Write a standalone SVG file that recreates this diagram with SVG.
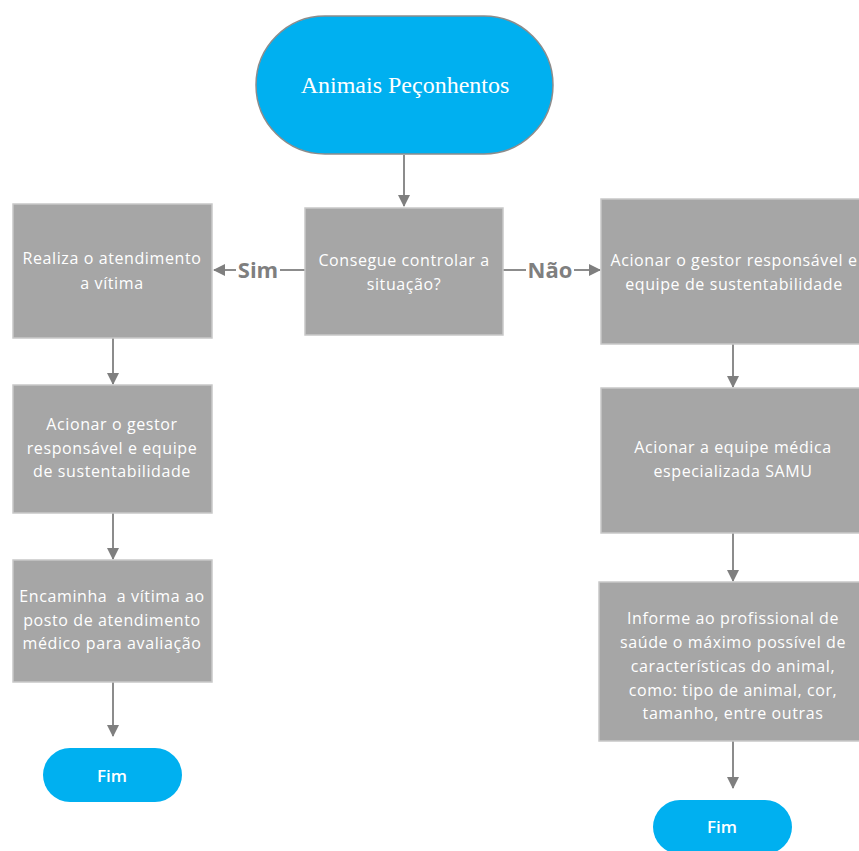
<svg xmlns="http://www.w3.org/2000/svg" width="859" height="851" viewBox="0 0 859 851">
  <style>
    .term { fill: #00B0F0; }
    .start { stroke: #8C8C8C; stroke-width: 1.5; }
    .box { fill: #A6A6A6; stroke: #C8C8C8; stroke-width: 1.5; }
    .txt { font-family: "Open Sans", "Liberation Sans", sans-serif; font-size: 16px; letter-spacing: 0.6px; fill: #FFFFFF; text-anchor: middle; white-space: pre; }
    .title { font-family: "Liberation Serif", serif; font-size: 24px; fill: #FFFFFF; text-anchor: middle; }
    .fim { font-family: "Open Sans", "Liberation Sans", sans-serif; font-size: 17px; font-weight: 600; fill: #FFFFFF; text-anchor: middle; }
    .lbl { font-family: "Open Sans", "Liberation Sans", sans-serif; font-size: 22px; font-weight: 700; fill: #7F7F7F; text-anchor: middle; }
    .edge { stroke: #8C8C8C; stroke-width: 2; fill: none; }
  </style>
  <defs>
    <marker id="arrow" markerWidth="6" markerHeight="6" refX="5.5" refY="3" orient="auto" markerUnits="strokeWidth">
      <path d="M0,0 L6,3 L0,6 Z" fill="#7F7F7F"/>
    </marker>
  </defs>

  <rect width="859" height="851" fill="#FFFFFF"/>

  <!-- connectors -->
  <g id="connectors">
    <line class="edge" x1="404" y1="155" x2="404" y2="206" marker-end="url(#arrow)"/>
    <line class="edge" x1="305" y1="270" x2="280" y2="270"/>
    <line class="edge" x1="236" y1="270" x2="214" y2="270" marker-end="url(#arrow)"/>
    <text class="lbl" x="258" y="278">Sim</text>
    <line class="edge" x1="503" y1="270" x2="526" y2="270"/>
    <line class="edge" x1="574" y1="270" x2="600" y2="270" marker-end="url(#arrow)"/>
    <text class="lbl" x="550" y="278">Não</text>
    <line class="edge" x1="113" y1="338" x2="113" y2="384" marker-end="url(#arrow)"/>
    <line class="edge" x1="113" y1="513" x2="113" y2="559" marker-end="url(#arrow)"/>
    <line class="edge" x1="113" y1="682" x2="113" y2="736" marker-end="url(#arrow)"/>
    <line class="edge" x1="733" y1="344" x2="733" y2="387" marker-end="url(#arrow)"/>
    <line class="edge" x1="733" y1="533" x2="733" y2="581" marker-end="url(#arrow)"/>
    <line class="edge" x1="733" y1="741" x2="733" y2="788" marker-end="url(#arrow)"/>
  </g>

  <g id="start">
    <rect class="term start" x="256" y="16" width="297" height="138" rx="69" ry="69"/>
    <text class="title" x="405" y="93">Animais Peçonhentos</text>
  </g>

  <g id="decision">
    <rect class="box" x="305" y="208" width="198" height="127"/>
    <text class="txt" x="404" y="266">Consegue controlar a</text>
    <text class="txt" x="404" y="290">situação?</text>
  </g>

  <g id="sim-atendimento">
    <rect class="box" x="13" y="204" width="199" height="134"/>
    <text class="txt" x="112" y="264">Realiza o atendimento</text>
    <text class="txt" x="112" y="289">a vítima</text>
  </g>

  <g id="sim-gestor">
    <rect class="box" x="13" y="385" width="199" height="128"/>
    <text class="txt" x="112" y="430">Acionar o gestor</text>
    <text class="txt" x="112" y="454">responsável e equipe</text>
    <text class="txt" x="112" y="477">de sustentabilidade</text>
  </g>

  <g id="sim-encaminha">
    <rect class="box" x="13" y="560" width="199" height="122"/>
    <text class="txt" x="112" y="602" xml:space="preserve">Encaminha  a vítima ao</text>
    <text class="txt" x="112" y="626">posto de atendimento</text>
    <text class="txt" x="112" y="649">médico para avaliação</text>
  </g>

  <g id="sim-fim">
    <rect class="term" x="43" y="748" width="139" height="54" rx="27" ry="27"/>
    <text class="fim" x="112" y="782">Fim</text>
  </g>

  <g id="nao-gestor">
    <rect class="box" x="601" y="199" width="262" height="145"/>
    <text class="txt" x="734" y="266">Acionar o gestor responsável e</text>
    <text class="txt" x="734" y="290">equipe de sustentabilidade</text>
  </g>

  <g id="nao-samu">
    <rect class="box" x="601" y="388" width="262" height="145"/>
    <text class="txt" x="733" y="453">Acionar a equipe médica</text>
    <text class="txt" x="733" y="477">especializada SAMU</text>
  </g>

  <g id="nao-informe">
    <rect class="box" x="599" y="582" width="264" height="159"/>
    <text class="txt" x="733" y="624">Informe ao profissional de</text>
    <text class="txt" x="733" y="648">saúde o máximo possível de</text>
    <text class="txt" x="733" y="672">características do animal,</text>
    <text class="txt" x="733" y="696">como: tipo de animal, cor,</text>
    <text class="txt" x="733" y="719">tamanho, entre outras</text>
  </g>

  <g id="nao-fim">
    <rect class="term" x="653" y="800" width="139" height="54" rx="27" ry="27"/>
    <text class="fim" x="722" y="833">Fim</text>
  </g>
</svg>
